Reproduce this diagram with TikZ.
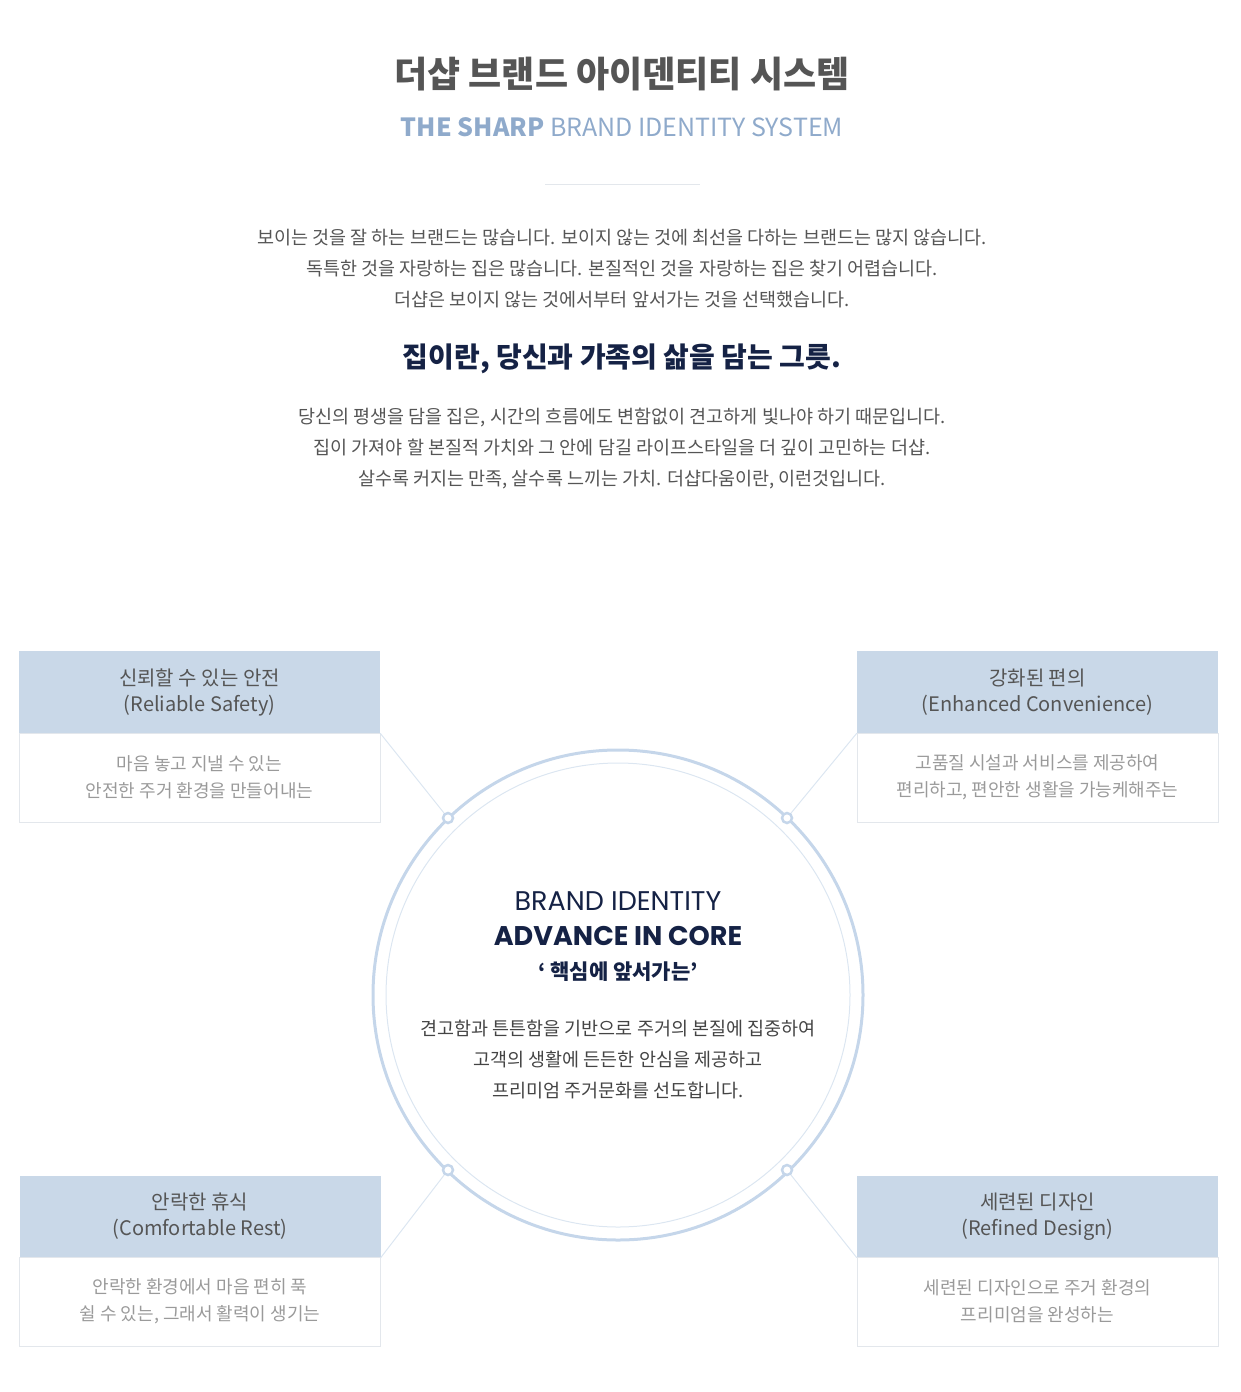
\documentclass[tikz,border=0pt]{standalone}
\usepackage{fontspec}
\setmainfont{Noto Sans CJK KR}
\newfontfamily\lat{Poppins}
\definecolor{hdr}{HTML}{C9D8E8}
\definecolor{ring}{HTML}{C5D6EA}
\definecolor{ringin}{HTML}{DCE6F1}
\definecolor{navy}{HTML}{152245}
\definecolor{gtxt}{HTML}{555555}
\definecolor{ltxt}{HTML}{9A9A9A}
\definecolor{bluet}{HTML}{8FAACB}
\definecolor{bord}{HTML}{E3E7EC}
\begin{document}
\begin{tikzpicture}[x=1pt,y=-1pt,
 hbox/.style={fill=hdr,minimum width=361pt,minimum height=82pt,align=center,text=gtxt,font=\fontsize{20}{26}\selectfont,inner sep=0pt},
 bbox/.style={draw=bord,minimum width=361pt,minimum height=89pt,align=center,text=ltxt,font=\fontsize{18}{27}\selectfont,inner sep=0pt},
 para/.style={align=center,text=gtxt,font=\fontsize{18.5}{31}\selectfont},
 conn/.style={draw=ringin,line width=1pt},
 ringmark/.style={circle,draw=ring,fill=white,line width=2.5pt,minimum size=10pt,inner sep=0pt}]
\useasboundingbox (0,0) rectangle (1240,1392);
\node[font=\fontsize{36}{40}\selectfont\bfseries,text=gtxt] (t1) at (622,74) {더샵 브랜드 아이덴티티 시스템};
\node[font=\fontsize{25}{30}\selectfont,text=bluet] (t2) at (622,127) {\textbf{THE SHARP} BRAND IDENTITY SYSTEM};
\draw[bord,line width=1pt] (545,184) -- (700,184);
\node[para] (p1) at (622,269) {보이는 것을 잘 하는 브랜드는 많습니다. 보이지 않는 것에 최선을 다하는 브랜드는 많지 않습니다.\\독특한 것을 자랑하는 집은 많습니다. 본질적인 것을 자랑하는 집은 찾기 어렵습니다.\\더샵은 보이지 않는 것에서부터 앞서가는 것을 선택했습니다.};
\node[font=\fontsize{28}{32}\selectfont\bfseries,text=navy] (t3) at (622,359) {집이란, 당신과 가족의 삶을 담는 그릇.};
\node[para] (p2) at (622,449) {당신의 평생을 담을 집은, 시간의 흐름에도 변함없이 견고하게 빛나야 하기 때문입니다.\\집이 가져야 할 본질적 가치와 그 안에 담길 라이프스타일을 더 깊이 고민하는 더샵.\\살수록 커지는 만족, 살수록 느끼는 가치. 더샵다움이란, 이런것입니다.};
% circle
\draw[ringin,line width=1pt] (618,995) circle (232);
\draw[ring,line width=3pt] (618,995) circle (245);
\node[font=\fontsize{27}{34}\selectfont\lat,text=navy] (c1) at (618,901) {BRAND IDENTITY};
\node[font=\fontsize{27}{34}\selectfont\lat\bfseries,text=navy] (c2) at (618,936) {ADVANCE IN CORE};
\node[font=\fontsize{21}{26}\selectfont\bfseries,text=navy] (c3) at (618,972) {‘ 핵심에 앞서가는’};
\node[para,text=gtxt!80!black] (c4) at (618,1060) {견고함과 튼튼함을 기반으로 주거의 본질에 집중하여\\고객의 생활에 든든한 안심을 제공하고\\프리미엄 주거문화를 선도합니다.};
% boxes
\node[hbox] (h1) at (199.5,692) {신뢰할 수 있는 안전\\(Reliable Safety)};
\node[bbox] (b1) at (199.5,777.5) {마음 놓고 지낼 수 있는\\안전한 주거 환경을 만들어내는};
\node[hbox] (h2) at (1037.5,692) {강화된 편의\\(Enhanced Convenience)};
\node[bbox] (b2) at (1037.5,777.5) {고품질 시설과 서비스를 제공하여\\편리하고, 편안한 생활을 가능케해주는};
\node[hbox] (h3) at (200,1216.5) {안락한 휴식\\(Comfortable Rest)};
\node[bbox] (b3) at (200,1301.5) {안락한 환경에서 마음 편히 푹\\쉴 수 있는, 그래서 활력이 생기는};
\node[hbox] (h4) at (1037.5,1216.5) {세련된 디자인\\(Refined Design)};
\node[bbox] (b4) at (1037.5,1301.5) {세련된 디자인으로 주거 환경의\\프리미엄을 완성하는};
% connectors
\node[ringmark] (m1) at (448,818) {};
\node[ringmark] (m2) at (787,818) {};
\node[ringmark] (m3) at (448,1170) {};
\node[ringmark] (m4) at (787,1170) {};
\draw[conn] (h1.south east) -- (m1);
\draw[conn] (h2.south west) -- (m2);
\draw[conn] (h3.south east) -- (m3);
\draw[conn] (h4.south west) -- (m4);
\end{tikzpicture}
\end{document}
